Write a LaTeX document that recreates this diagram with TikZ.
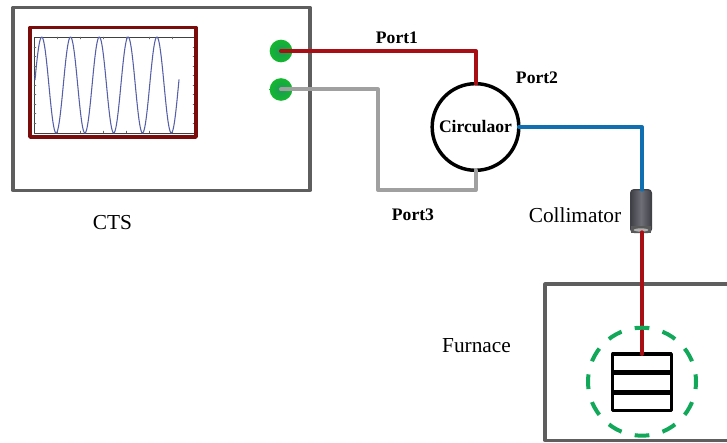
\documentclass[tikz,border=0pt]{standalone}
\usepackage{fontspec}
\usetikzlibrary{shapes.geometric}
\setmainfont{Liberation Serif}
\definecolor{boxgray}{HTML}{5E5E5E}
\definecolor{screenred}{HTML}{7A0C0C}
\definecolor{wirered}{HTML}{A80F14}
\definecolor{wiregray}{HTML}{A0A0A0}
\definecolor{wireblue}{HTML}{0F6FB0}
\definecolor{dotgreen}{HTML}{12B82E}
\definecolor{dotinner}{HTML}{1A9A55}
\definecolor{ringgreen}{HTML}{12A85A}
\definecolor{tracecol}{HTML}{5560A8}
\definecolor{collcol}{HTML}{55555F}
\tikzset{
  portdot/.style={circle,inner color=dotinner,outer color=dotgreen,minimum size=17pt,inner sep=0pt,outer sep=0pt},
  redwire/.style={draw=wirered,line width=3pt},
  graywire/.style={draw=wiregray,line width=3pt},
  bluewire/.style={draw=wireblue,line width=3pt},
  bigtext/.style={font=\fontsize{16}{18}\selectfont,inner sep=0pt},
  porttext/.style={font=\fontsize{13.2}{15}\selectfont\bfseries,inner sep=0pt}
}
\begin{document}
\begin{tikzpicture}[x=0.75pt,y=-0.75pt,line join=round,line cap=round]
\useasboundingbox (0,0) rectangle (727,442);
% instrument and screen
\draw[boxgray,line width=2.3pt] (13,7.5) rectangle (310,190.5);
\draw[black!75,line width=0.6pt] (195,37)--(34,37)--(34,133)--(195,133);
\foreach \x in {57,80,103,126,149,172}
\draw[black!60,line width=0.3pt] (\x,37)--(\x,39) (\x,133)--(\x,131);
\foreach \y in {47,56.5,66,75.5,85,94.5,104,113.5,123}
\draw[black!60,line width=0.3pt] (34,\y)--(36,\y) (195,\y)--(193,\y);
\draw[tracecol,line width=0.8pt,samples=240,domain=35:179,smooth,variable=\x] plot (\x,{85-48*cos(12.5*(\x-41.7))});
\draw[screenred,line width=2.6pt] (30,27.5) rectangle (196,137);
\node[portdot] (portone) at (281,51) {};
\node[portdot] (portthree) at (281,89.5) {};
% circulator
\node[circle,draw=black,line width=2.6pt,minimum size=65pt,inner sep=0pt,outer sep=0pt,font=\fontsize{13.2}{15}\selectfont\bfseries] (circ) at (475.5,127) {Circulaor};
% collimator
\node[draw=collcol!75!black,line width=1pt,rounded corners=2.5pt,left color=collcol!75!black,right color=collcol!75!black,middle color=collcol!85!white,minimum width=15.5pt,minimum height=32pt,inner sep=0pt,outer sep=0pt] (coll) at (641,211) {};
\fill[black!65] (631,226) rectangle (651,233);
\node[ellipse,fill=black!30,minimum width=11pt,minimum height=2.5pt,inner sep=0pt] (colllens) at (641,230) {};
% furnace
\draw[boxgray,line width=2.3pt] (727,284)--(545,284)--(545,440.5)--(727,440.5);
\node[draw=black,line width=2.3pt,minimum width=44pt,minimum height=42.5pt,inner sep=0pt,outer sep=0pt] (rack) at (642,382.3) {};
\draw[black,line width=3.8pt,line cap=butt] ([yshift=7.4pt]rack.west)--([yshift=7.4pt]rack.east);
\draw[black,line width=3.8pt,line cap=butt] ([yshift=-7.3pt]rack.west)--([yshift=-7.3pt]rack.east);
% wires
\coordinate (turntop) at (476,51);
\coordinate (turnleft) at (378,190);
\coordinate (turnright) at (642,127);
\draw[redwire] (portone.center)--(turntop)--(circ.north-|turntop);
\draw[graywire] (portthree.center)-|(turnleft)-|(circ.south);
\draw[bluewire] (circ.east)--(turnright)--(turnright|-coll.north);
\draw[redwire] (rack.north)--(rack.north|-coll.south);
\node[circle,draw=ringgreen,line width=3pt,line cap=butt,dash pattern=on 11pt off 10.2pt,dash phase=5.5pt,minimum size=81pt,inner sep=0pt] (ring) at (642,381.7) {};
% labels
\node[porttext] (portonetext) at (397,38) {Port1};
\node[porttext] (porttwotext) at (537,77.5) {Port2};
\node[porttext] (portthreetext) at (413,215) {Port3};
\node[bigtext] (colltext) at (575,215) {Collimator};
\node[bigtext] (ctstext) at (112.5,223) {CTS};
\node[bigtext] (furnacetext) at (476.5,346) {Furnace};
\end{tikzpicture}
\end{document}
